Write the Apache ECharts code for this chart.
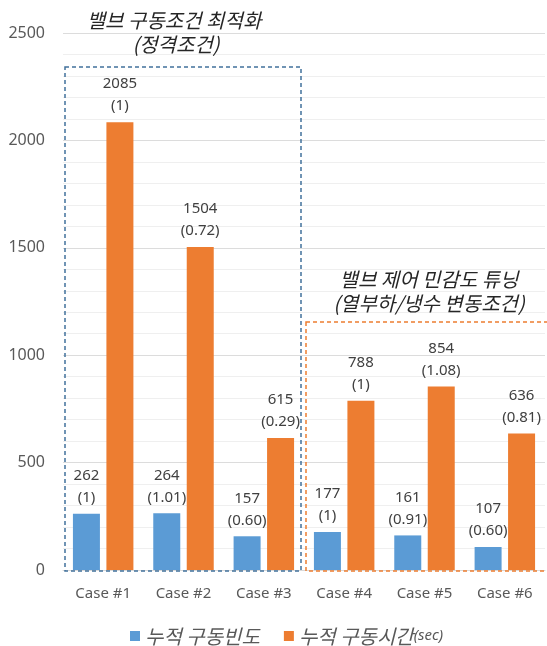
<!DOCTYPE html>
<html>
<head>
<meta charset="utf-8">
<script src="https://cdn.jsdelivr.net/npm/echarts@6/dist/echarts.min.js"></script>
<style>
html,body{margin:0;padding:0;background:#fff;}
#chart{width:547px;height:646px;}
</style>
</head>
<body>
<div id="chart"></div>
<script>
const categories = ['Case #1', 'Case #2', 'Case #3', 'Case #4', 'Case #5', 'Case #6'];
const freqValues = [262, 264, 157, 177, 161, 107];
const freqRatios = ['1', '1.01', '0.60', '1', '0.91', '0.60'];
const timeValues = [2085, 1504, 615, 788, 854, 636];
const timeRatios = ['1', '0.72', '0.29', '1', '1.08', '0.81'];
const seriesNames = ['누적 구동빈도', '누적 구동시간(sec)'];
const yTicks = [0, 500, 1000, 1500, 2000, 2500];

const FONT = '"Noto Sans", "Noto Sans CJK KR", sans-serif';
const KFONT = '"Noto Sans CJK KR", "Noto Sans", sans-serif';

const chart = echarts.init(document.getElementById('chart'), null, {renderer: 'canvas'});

function labelFor(ratios) {
  return {
    show: true,
    position: 'top',
    distance: 5,
    color: '#404040',
    fontSize: 15,
    fontFamily: FONT,
    lineHeight: 22,
    formatter: p => p.value + '\n(' + ratios[p.dataIndex] + ')'
  };
}

const option = {
  animation: false,
  textStyle: {fontFamily: FONT},
  grid: {left: 63, right: 2, top: 33, bottom: 76, containLabel: false},
  legend: {
    data: seriesNames,
    top: 621,
    left: 125,
    itemWidth: 10,
    itemHeight: 10,
    itemGap: 24,
    icon: 'rect',
    textStyle: {
      color: '#595959',
      fontSize: 20,
      fontStyle: 'italic',
      fontFamily: KFONT,
      rich: {
        n: {fontSize: 20, fontStyle: 'italic', color: '#595959', fontFamily: KFONT},
        s: {fontSize: 15, fontStyle: 'italic', color: '#595959', fontFamily: FONT}
      }
    },
    formatter: name => name.indexOf('(sec)') >= 0
      ? '{n|' + name.replace('(sec)', '') + '}{s|(sec)}'
      : '{n|' + name + '}'
  },
  xAxis: {
    type: 'category',
    data: categories,
    axisLine: {show: true, lineStyle: {color: '#D9D9D9'}},
    axisTick: {show: false},
    axisLabel: {color: '#595959', fontSize: 15, margin: 16, fontFamily: FONT}
  },
  yAxis: {
    type: 'value',
    min: yTicks[0],
    max: yTicks[yTicks.length - 1],
    interval: 500,
    axisLine: {show: false},
    axisTick: {show: false},
    axisLabel: {color: '#595959', fontSize: 16, margin: 18, fontFamily: FONT, formatter: v => String(v)},
    splitLine: {show: true, lineStyle: {color: '#DCDCDC', width: 1}},
    minorTick: {show: false, splitNumber: 5},
    minorSplitLine: {show: true, lineStyle: {color: '#EFEFEF', width: 1}}
  },
  series: [
    {
      name: seriesNames[0],
      type: 'bar',
      data: freqValues,
      barWidth: 27,
      barGap: '24%',
      itemStyle: {color: '#5B9BD5'},
      label: labelFor(freqRatios)
    },
    {
      name: seriesNames[1],
      type: 'bar',
      data: timeValues,
      barWidth: 27,
      barGap: '24%',
      itemStyle: {color: '#ED7D31'},
      label: labelFor(timeRatios)
    }
  ],
  graphic: [
    {
      type: 'rect',
      shape: {x: 65, y: 67, width: 236, height: 504},
      style: {fill: 'none', stroke: '#41719C', lineWidth: 1.5, lineDash: [4, 3]},
      z: 10
    },
    {
      type: 'rect',
      shape: {x: 306, y: 322, width: 250, height: 249},
      style: {fill: 'none', stroke: '#ED7D31', lineWidth: 1.5, lineDash: [4, 3]},
      z: 10
    },
    {
      type: 'text',
      x: 174, y: 20,
      style: {text: '밸브 구동조건 최적화', fill: '#262626', font: 'italic 20px ' + KFONT, textAlign: 'center', textVerticalAlign: 'middle'},
      z: 11
    },
    {
      type: 'text',
      x: 176, y: 44,
      style: {text: '(정격조건)', fill: '#262626', font: 'italic 20px ' + KFONT, textAlign: 'center', textVerticalAlign: 'middle'},
      z: 11
    },
    {
      type: 'text',
      x: 429, y: 279,
      style: {text: '밸브 제어 민감도 튜닝', fill: '#262626', font: 'italic 20px ' + KFONT, textAlign: 'center', textVerticalAlign: 'middle'},
      z: 11
    },
    {
      type: 'text',
      x: 429, y: 303,
      style: {text: '(열부하/냉수 변동조건)', fill: '#262626', font: 'italic 20px ' + KFONT, textAlign: 'center', textVerticalAlign: 'middle'},
      z: 11
    }
  ]
};

chart.setOption(option);
</script>
</body>
</html>
